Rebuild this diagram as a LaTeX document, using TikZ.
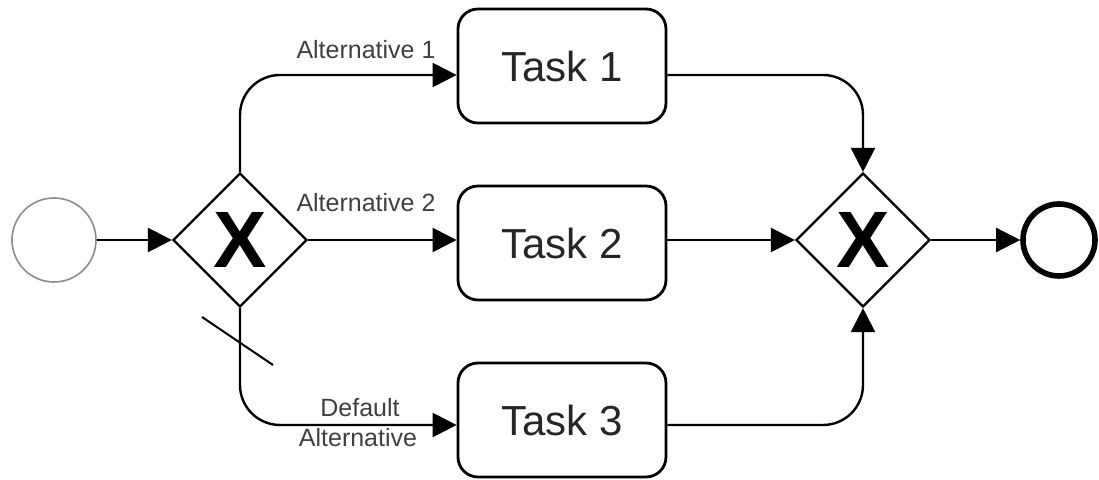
\documentclass[tikz,border=0pt]{standalone}
\usepackage{fontspec}
\setmainfont{Liberation Sans}
\usetikzlibrary{arrows.meta,shapes.geometric}
\begin{document}
\begin{tikzpicture}[x=0.5pt,y=-0.5pt,
  task/.style={draw,line width=1.4pt,rounded corners=10pt,minimum width=104pt,minimum height=57pt,inner sep=0pt,font=\fontsize{21}{24}\selectfont,text=black!85},
  gateway/.style={draw,diamond,aspect=1,line width=1.1pt,minimum width=67pt,minimum height=67pt,inner sep=0pt},
  xmark/.style={font=\fontsize{40}{40}\selectfont\bfseries,inner sep=0pt},
  flow/.style={line width=1.2pt,-{Triangle[length=12pt,width=12pt]}},
  lbl/.style={font=\fontsize{12.5}{14}\selectfont,text=black!75,inner sep=0pt,align=center}
]
\useasboundingbox (0,0) rectangle (1099,480);
\node[circle,draw=black!45,line width=0.8pt,minimum size=42pt,inner sep=0pt] (start) at (54,240) {};
\node[gateway] (g1) at (240,240) {};
\node[xmark] (x1) at (240,240) {X};
\node[task] (t1) at (562,66) {Task 1};
\node[task] (t2) at (562,243) {Task 2};
\node[task] (t3) at (562,420) {Task 3};
\node[gateway] (g2) at (863,240) {};
\node[xmark] (x2) at (863,240) {X};
\node[circle,draw,line width=2.8pt,minimum size=36pt,inner sep=0pt] (end) at (1059,240) {};

\draw[flow] (start.east) -- (g1.west);
\draw[flow,rounded corners=20pt] (g1.north) |- ([yshift=-4.5pt]t1.west);
\draw[flow] (g1.east) -- (t2.west |- g1.east);
\draw[flow,rounded corners=20pt] (g1.south) |- ([yshift=-2.5pt]t3.west);
\draw[flow,rounded corners=20pt] ([yshift=-4.5pt]t1.east) -| (g2.north);
\draw[flow] (t2.east |- g2.west) -- (g2.west);
\draw[flow,rounded corners=20pt] ([yshift=-2.5pt]t3.east) -| (g2.south);
\draw[flow] (g2.east) -- (end.west);

\coordinate (s1) at (202,317);
\coordinate (s2) at (273,365);
\draw[line width=1pt] (s1) -- (s2);

\node[lbl] (l1) at (366,50) {Alternative 1};
\node[lbl] (l2) at (366,203) {Alternative 2};
\node[lbl] (l3) at (360,408) {Default};
\node[lbl] (l4) at (358,438) {Alternative};
\end{tikzpicture}
\end{document}
